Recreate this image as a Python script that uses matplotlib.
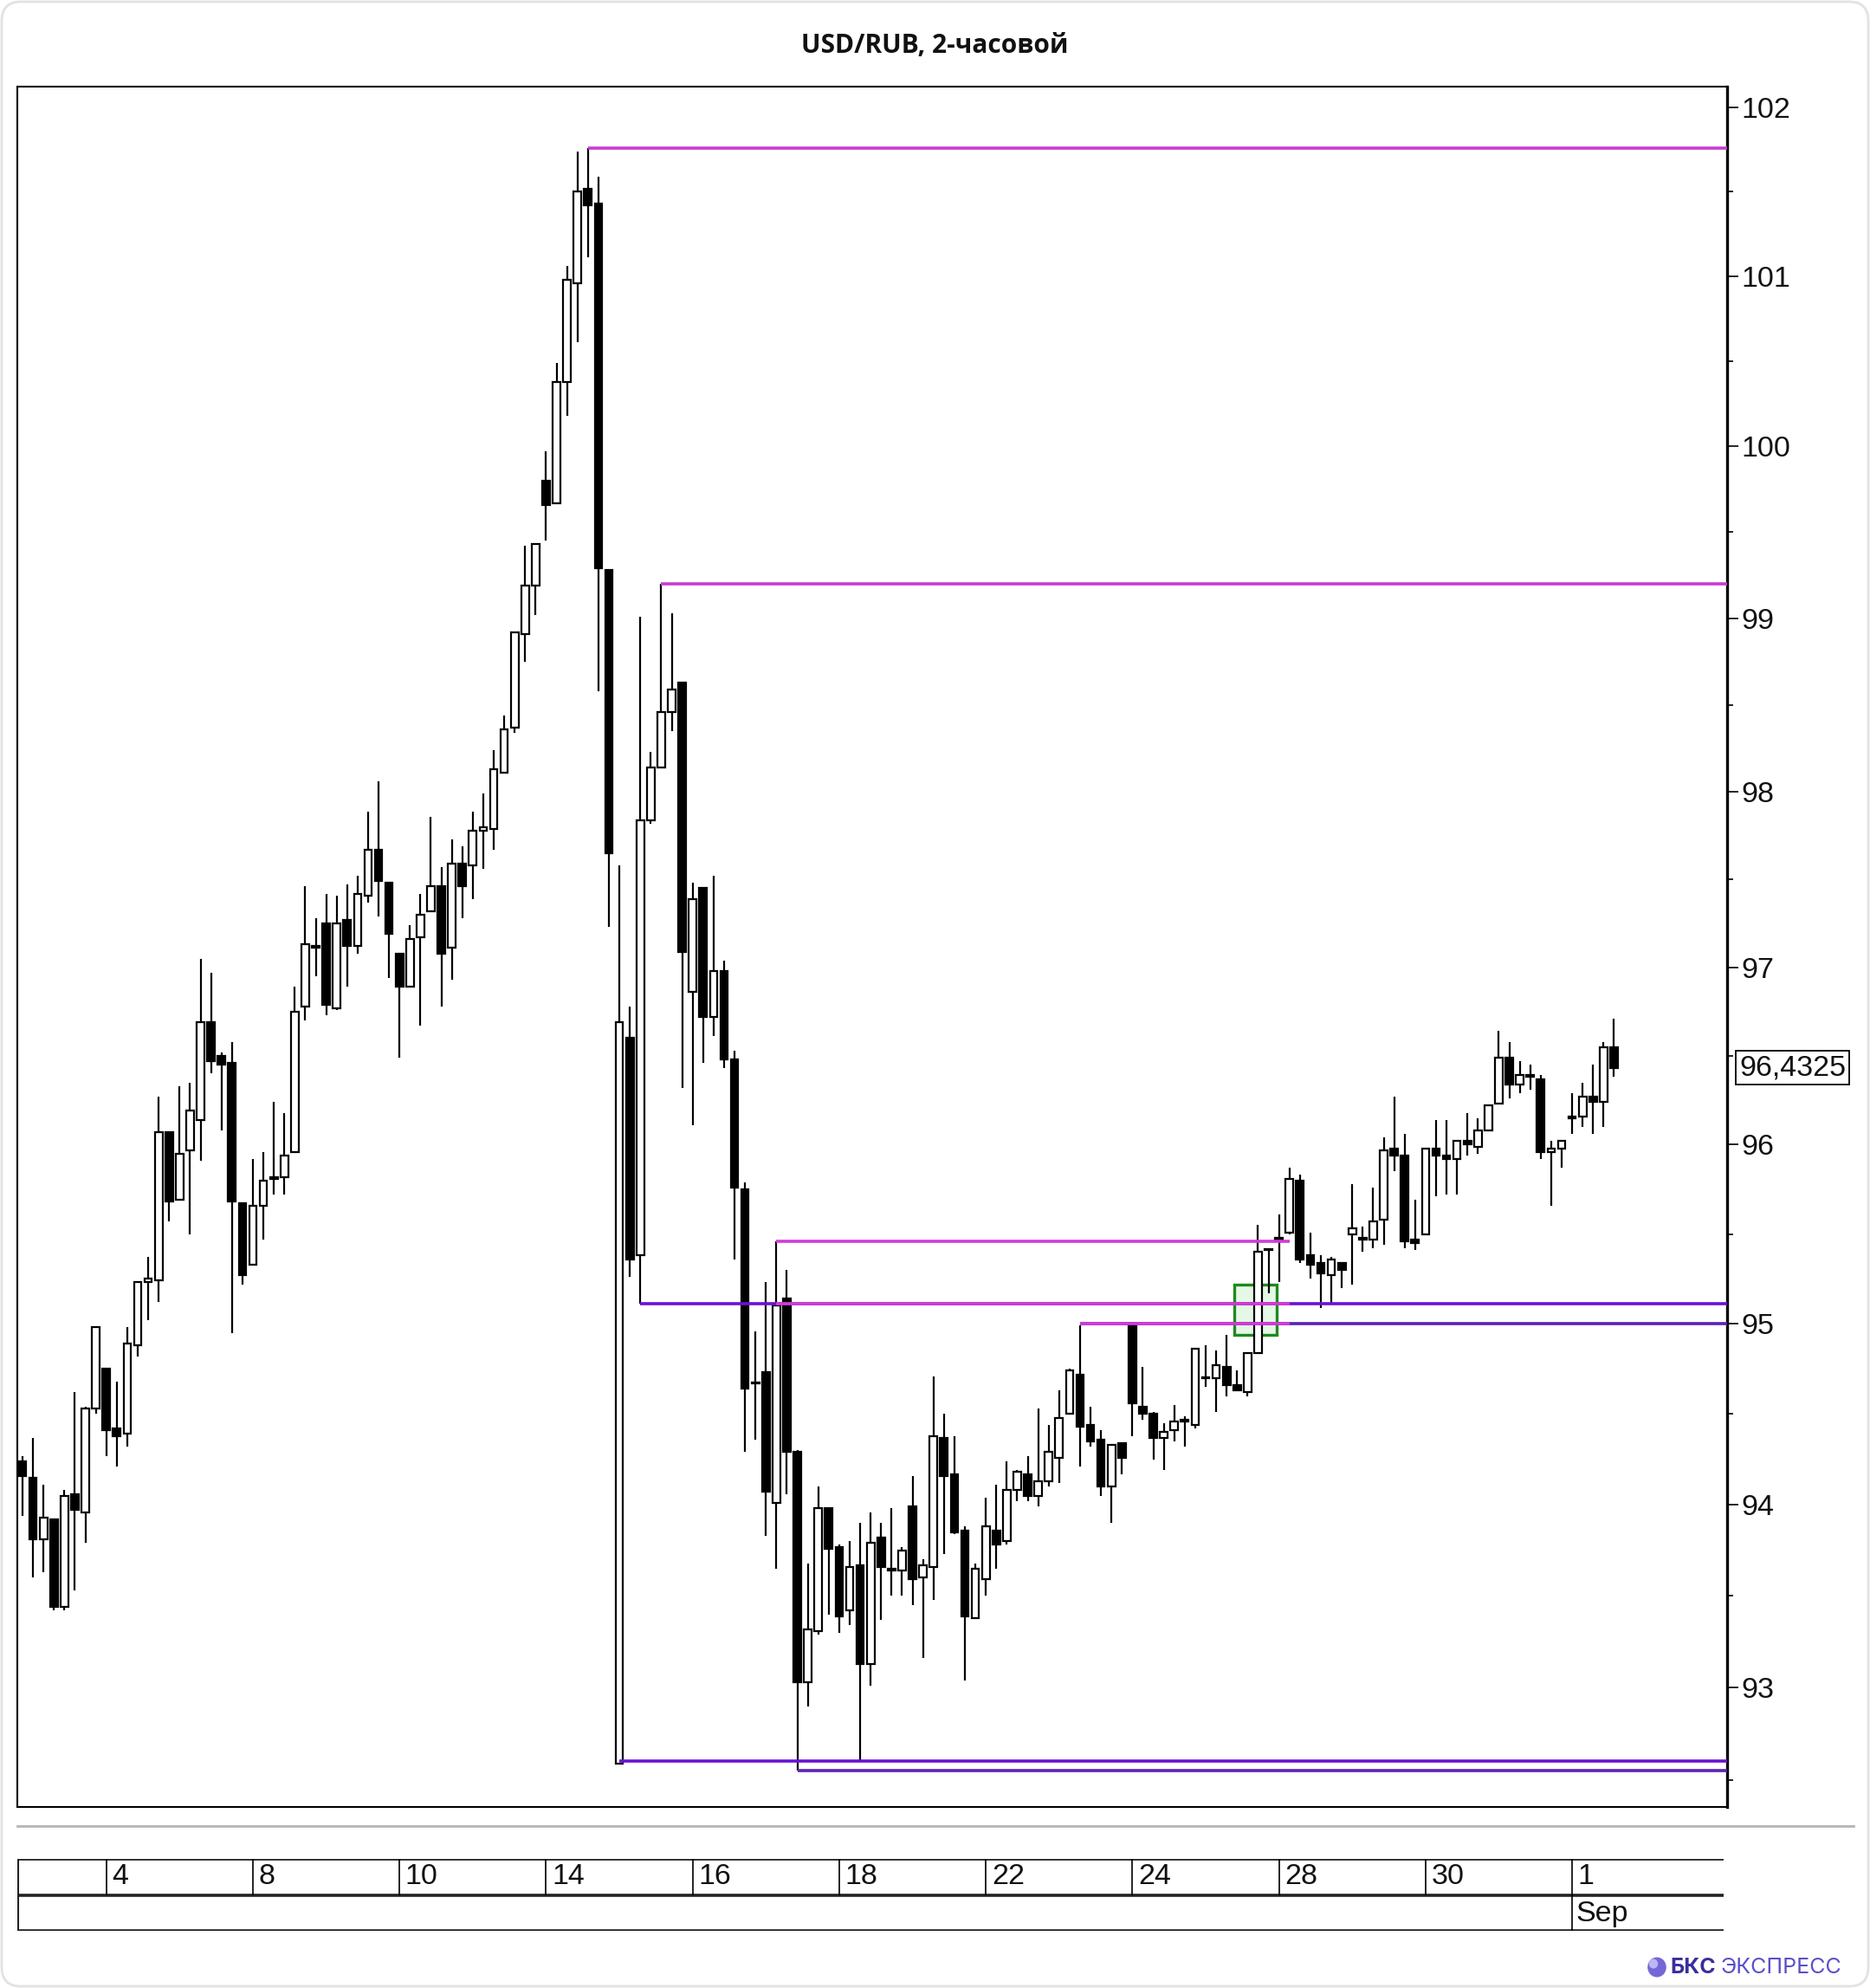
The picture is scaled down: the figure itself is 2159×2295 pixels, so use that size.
import numpy as np
import matplotlib
matplotlib.use("Agg")
import matplotlib.pyplot as plt
from matplotlib import font_manager
from matplotlib.patches import Rectangle, FancyBboxPatch, Circle
from matplotlib.lines import Line2D
from matplotlib.ticker import FixedLocator, NullFormatter

# USD/RUB 2h candles, 2 Aug (last bar) .. 1 Sep
opens = [94.24, 94.15, 93.81, 93.92, 93.44, 94.06, 93.96, 94.53, 94.75, 94.42,
         94.39, 94.88, 95.23, 95.24, 96.07, 95.69, 95.97, 96.14, 96.69, 96.50,
         96.46, 95.67, 95.33, 95.66, 95.81, 95.82, 95.96, 96.78, 97.11, 97.25,
         96.77, 97.27, 97.12, 97.41, 97.67, 97.48, 97.08, 96.89, 97.17, 97.32,
         97.46, 97.11, 97.59, 97.58, 97.78, 97.79, 98.11, 98.37, 98.91, 99.19,
         99.80, 99.67, 100.38, 100.96, 101.52, 101.43, 99.28, 92.59, 96.60, 95.38,
         97.84, 98.14, 98.46, 98.63, 96.86, 97.45, 96.72, 96.98, 96.48, 95.75,
         94.67, 94.73, 94.01, 95.14, 94.29, 93.03, 93.31, 93.98, 93.77, 93.42,
         93.67, 93.13, 93.82, 93.65, 93.64, 93.99, 93.60, 93.66, 94.37, 94.17,
         93.86, 93.38, 93.59, 93.86, 93.80, 94.08, 94.17, 94.05, 94.13, 94.26,
         94.50, 94.72, 94.44, 94.36, 94.10, 94.34, 94.99, 94.54, 94.50, 94.37,
         94.41, 94.46, 94.44, 94.70, 94.70, 94.76, 94.66, 94.62, 94.84, 95.41,
         95.48, 95.51, 95.80, 95.38, 95.34, 95.27, 95.34, 95.50, 95.48, 95.47,
         95.58, 95.98, 95.94, 95.47, 95.50, 95.98, 95.94, 95.92, 96.02, 95.99,
         96.08, 96.23, 96.49, 96.34, 96.39, 96.37, 95.96, 95.98, 96.16, 96.16,
         96.27, 96.24, 96.55]
highs = [94.27, 94.37, 94.11, 93.92, 94.08, 94.62, 94.54, 94.98, 94.75, 94.68,
         94.98, 95.23, 95.37, 96.27, 96.07, 96.33, 96.35, 97.05, 96.97, 96.52,
         96.58, 95.67, 95.92, 95.96, 96.24, 96.18, 96.89, 97.46, 97.28, 97.42,
         97.41, 97.47, 97.52, 97.89, 98.06, 97.48, 97.08, 97.24, 97.42, 97.86,
         97.57, 97.73, 97.69, 97.89, 97.99, 98.24, 98.44, 98.92, 99.42, 99.43,
         99.97, 100.49, 101.06, 101.74, 101.76, 101.59, 99.28, 97.58, 96.78, 99.01,
         98.23, 99.20, 99.03, 98.63, 97.48, 97.45, 97.52, 97.04, 96.53, 95.79,
         94.96, 95.23, 95.46, 95.30, 94.30, 93.68, 94.10, 93.98, 93.78, 93.80,
         93.90, 93.96, 93.90, 93.98, 93.77, 94.16, 93.70, 94.71, 94.50, 94.38,
         93.88, 93.68, 94.04, 94.11, 94.24, 94.19, 94.27, 94.53, 94.44, 94.63,
         94.75, 94.99, 94.54, 94.41, 94.33, 94.34, 94.99, 94.76, 94.51, 94.45,
         94.55, 94.49, 94.86, 94.88, 94.85, 94.94, 94.74, 94.84, 95.55, 95.42,
         95.61, 95.87, 95.83, 95.51, 95.38, 95.37, 95.34, 95.78, 95.54, 95.76,
         96.04, 96.27, 96.06, 95.69, 95.98, 96.14, 96.14, 96.02, 96.18, 96.15,
         96.22, 96.64, 96.58, 96.47, 96.45, 96.39, 96.02, 96.02, 96.29, 96.35,
         96.45, 96.58, 96.71]
lows = [93.94, 93.60, 93.63, 93.42, 93.42, 93.53, 93.79, 94.50, 94.27, 94.21,
        94.32, 94.82, 95.02, 95.12, 95.57, 95.69, 95.50, 95.91, 96.40, 96.08,
        94.95, 95.22, 95.33, 95.47, 95.72, 95.72, 95.96, 96.70, 96.95, 96.73,
        96.76, 96.89, 97.08, 97.37, 97.29, 96.94, 96.49, 96.89, 96.67, 97.32,
        96.78, 96.93, 97.28, 97.39, 97.56, 97.67, 98.11, 98.34, 98.75, 99.02,
        99.45, 99.67, 100.18, 100.61, 101.11, 98.58, 97.23, 92.59, 95.26, 95.11,
        97.82, 98.14, 98.35, 96.32, 96.11, 96.46, 96.61, 96.43, 95.36, 94.29,
        94.36, 93.83, 93.65, 94.06, 92.55, 92.90, 93.29, 93.40, 93.30, 93.34,
        92.60, 93.01, 93.37, 93.50, 93.50, 93.45, 93.16, 93.48, 93.73, 93.84,
        93.04, 93.38, 93.50, 93.65, 93.78, 94.02, 94.02, 93.99, 94.10, 94.12,
        94.50, 94.21, 94.32, 94.05, 93.90, 94.17, 94.38, 94.47, 94.25, 94.19,
        94.35, 94.32, 94.42, 94.65, 94.51, 94.60, 94.63, 94.60, 94.84, 95.17,
        95.23, 95.50, 95.34, 95.25, 95.09, 95.11, 95.20, 95.22, 95.40, 95.42,
        95.44, 95.85, 95.42, 95.41, 95.50, 95.71, 95.72, 95.72, 95.94, 95.95,
        96.08, 96.23, 96.26, 96.29, 96.31, 95.92, 95.66, 95.87, 96.06, 96.10,
        96.06, 96.10, 96.38]
closes = [94.16, 93.81, 93.93, 93.44, 94.05, 93.97, 94.53, 94.98, 94.41, 94.38,
          94.89, 95.23, 95.25, 96.07, 95.68, 95.95, 96.19, 96.69, 96.47, 96.45,
          95.68, 95.27, 95.66, 95.80, 95.82, 95.94, 96.75, 97.13, 97.12, 96.79,
          97.25, 97.12, 97.42, 97.67, 97.49, 97.19, 96.89, 97.16, 97.30, 97.46,
          97.08, 97.59, 97.46, 97.78, 97.80, 98.13, 98.36, 98.92, 99.19, 99.43,
          99.66, 100.38, 100.98, 101.50, 101.42, 99.29, 97.65, 96.69, 95.36, 97.84,
          98.14, 98.46, 98.59, 97.09, 97.39, 96.72, 96.98, 96.48, 95.76, 94.64,
          94.67, 94.07, 95.10, 94.29, 93.03, 93.32, 93.98, 93.76, 93.39, 93.66,
          93.13, 93.79, 93.66, 93.64, 93.75, 93.59, 93.67, 94.38, 94.16, 93.85,
          93.39, 93.65, 93.88, 93.78, 94.08, 94.18, 94.05, 94.13, 94.29, 94.48,
          94.74, 94.43, 94.35, 94.10, 94.33, 94.26, 94.56, 94.50, 94.37, 94.40,
          94.46, 94.47, 94.86, 94.70, 94.77, 94.66, 94.63, 94.84, 95.40, 95.41,
          95.47, 95.81, 95.36, 95.33, 95.28, 95.36, 95.30, 95.53, 95.47, 95.57,
          95.97, 95.94, 95.46, 95.45, 95.98, 95.94, 95.92, 96.02, 96.00, 96.08,
          96.22, 96.49, 96.34, 96.39, 96.38, 95.96, 95.98, 96.02, 96.15, 96.27,
          96.24, 96.55, 96.4325]
last_price = 96.4325

# levels drawn to the right edge: price, first candle
long_prices = [101.76, 99.20, 95.11, 95.00, 92.60, 92.55]
long_starts = [54, 61, 59, 101, 57, 74]
long_colors = ["#c83cd0", "#c83cd0", "#6a12d6", "#5c22b4", "#6a12d6", "#5c22b4"]
# short levels: price, first candle, last candle
short_prices = [95.46, 95.11, 95.00]
short_starts = [72, 72, 101]
short_ends = [121, 121, 121]

# green zone: candles and prices
zone_x = [115.7, 119.8]
zone_y = [94.94, 95.22]

# date cells (each first candle of the labelled day)
day_pos = [8, 22, 36, 50, 64, 78, 92, 106, 120, 134, 148]
day_labels = ["4", "8", "10", "14", "16", "18", "22", "24", "28", "30", "1"]
month_pos = [148]
month_labels = ["Sep"]

price_ticks = [93, 94, 95, 96, 97, 98, 99, 100, 101, 102]
price_minor = [92.5, 93.5, 94.5, 95.5, 96.5, 97.5, 98.5, 99.5, 100.5, 101.5]

names = {f.name for f in font_manager.fontManager.ttflist}
if "Liberation Sans Narrow" in names:
    num_font, num_size = "Liberation Sans Narrow", 28
else:
    num_font, num_size = "Liberation Sans", 24.5

W, H = 2159, 2295
fig = plt.figure(figsize=(W / 100, H / 100), dpi=100)
fig.patch.set_facecolor("white")

def fx(px):
    return px / W

def fy(py):
    return 1 - py / H

# rounded frame round the picture
fig.patches.append(FancyBboxPatch((0.02, 0.02), W / 100 - 0.04, H / 100 - 0.04,
                                  boxstyle="round,pad=0,rounding_size=0.22",
                                  transform=fig.dpi_scale_trans, fc="none",
                                  ec="#e2e2e2", lw=2))

fig.text(0.5, fy(53), "USD/RUB, 2-часовой", ha="center", va="center",
         fontsize=21.5, fontweight="bold", family=["Open Sans", "DejaVu Sans"],
         color="#111111")

x0, x1 = -0.5, 162.8
ax = fig.add_axes([fx(20), fy(2086), fx(1994) - fx(20), fy(99.5) - fy(2086)])
ax.set_yscale("log")
ax.set_xlim(x0, x1)
ax.set_ylim(92.354, 102.129)

o = np.array(opens)
h = np.array(highs)
l = np.array(lows)
c = np.array(closes)
x = np.arange(len(o))
up = c >= o

ax.vlines(x, l, h, color="black", lw=1.6, zorder=3)
ax.bar(x, np.maximum(np.abs(c - o), 0.004), bottom=np.minimum(o, c), width=0.72,
       color=np.where(up, "white", "black"), edgecolor="black", linewidth=1.6,
       zorder=4)

for p, s, col in zip(long_prices, long_starts, long_colors):
    ax.hlines(p, s, x1, color=col, lw=2.6, zorder=5)
for p, s, e in zip(short_prices, short_starts, short_ends):
    ax.hlines(p, s, e, color="#d23bd6", lw=2.6, zorder=6)

ax.add_patch(Rectangle((zone_x[0], zone_y[0]), zone_x[1] - zone_x[0],
                       zone_y[1] - zone_y[0], fc=(0.82, 0.95, 0.82, 0.55),
                       ec="#1d8a1d", lw=2.4, zorder=2))

ax.yaxis.tick_right()
ax.yaxis.set_major_locator(FixedLocator(price_ticks))
ax.yaxis.set_minor_locator(FixedLocator(price_minor))
ax.yaxis.set_minor_formatter(NullFormatter())
ax.set_yticklabels([str(t) for t in price_ticks], family=num_font,
                   fontsize=num_size, color="#111111")
ax.tick_params(axis="y", which="major", length=9, width=1.2, pad=3, direction="out")
ax.tick_params(axis="y", which="minor", length=5, width=1.2, direction="out")
ax.set_xticks([])
for side in ["left", "top", "bottom"]:
    ax.spines[side].set_linewidth(1.5)
ax.spines["right"].set_linewidth(2.4)

ax.annotate(f"{last_price:.4f}".replace(".", ","), xy=(1, last_price),
            xycoords=ax.get_yaxis_transform(), xytext=(14, 0),
            textcoords="offset pixels", ha="left", va="center",
            family=num_font, fontsize=num_size, color="#111111",
            bbox=dict(boxstyle="square,pad=0.12", fc="white", ec="black", lw=1.3))

# thin separator under the chart
fig.add_artist(Line2D([fx(20), fx(2140)], [fy(2108), fy(2108)], color="#b4b4b4", lw=2))

# date panel
dx = fig.add_axes([fx(20), fy(2229), fx(1994) - fx(20), fy(2146) - fy(2229)])
dx.set_xlim(x0, x1)
dx.set_ylim(0, 2)
dx.axis("off")
for yy in [0, 1, 2]:
    dx.hlines(yy, x0, x1 - 0.3, color="#222222", lw=2.6)
dx.vlines(x0 + 0.05, 0, 2, color="#222222", lw=1.5)
for p, t in zip(day_pos, day_labels):
    dx.vlines(p, 1, 2, color="black", lw=1.2)
    dx.text(p + 0.55, 1.5, t, ha="left", va="center", family=num_font,
            fontsize=num_size, color="#111111")
for p, t in zip(month_pos, month_labels):
    dx.vlines(p, 0, 1, color="black", lw=1.2)
    dx.text(p + 0.35, 0.47, t, ha="left", va="center", family=num_font,
            fontsize=num_size, color="#111111")

# watermark
fig.patches.append(Circle((fx(1913), fy(2271)), 0.0050, transform=fig.transFigure,
                          fc="#7468d8", ec="none"))
fig.patches.append(Circle((fx(1909), fy(2267)), 0.0024, transform=fig.transFigure,
                          fc="#bdb7f2", ec="none"))
wm1 = fig.text(fx(1928), fy(2272), "БКС", ha="left", va="center", fontsize=18,
               fontweight="bold", family=["Inter", "DejaVu Sans"], color="#3a2e9c")
fig.canvas.draw()
bb = wm1.get_window_extent()
fig.text((bb.x1 + 6) / W, fy(2272), "ЭКСПРЕСС", ha="left", va="center", fontsize=18,
         family=["Inter", "DejaVu Sans"], color="#5a4fc8")

fig.savefig("out.png", dpi=100, facecolor="white")
